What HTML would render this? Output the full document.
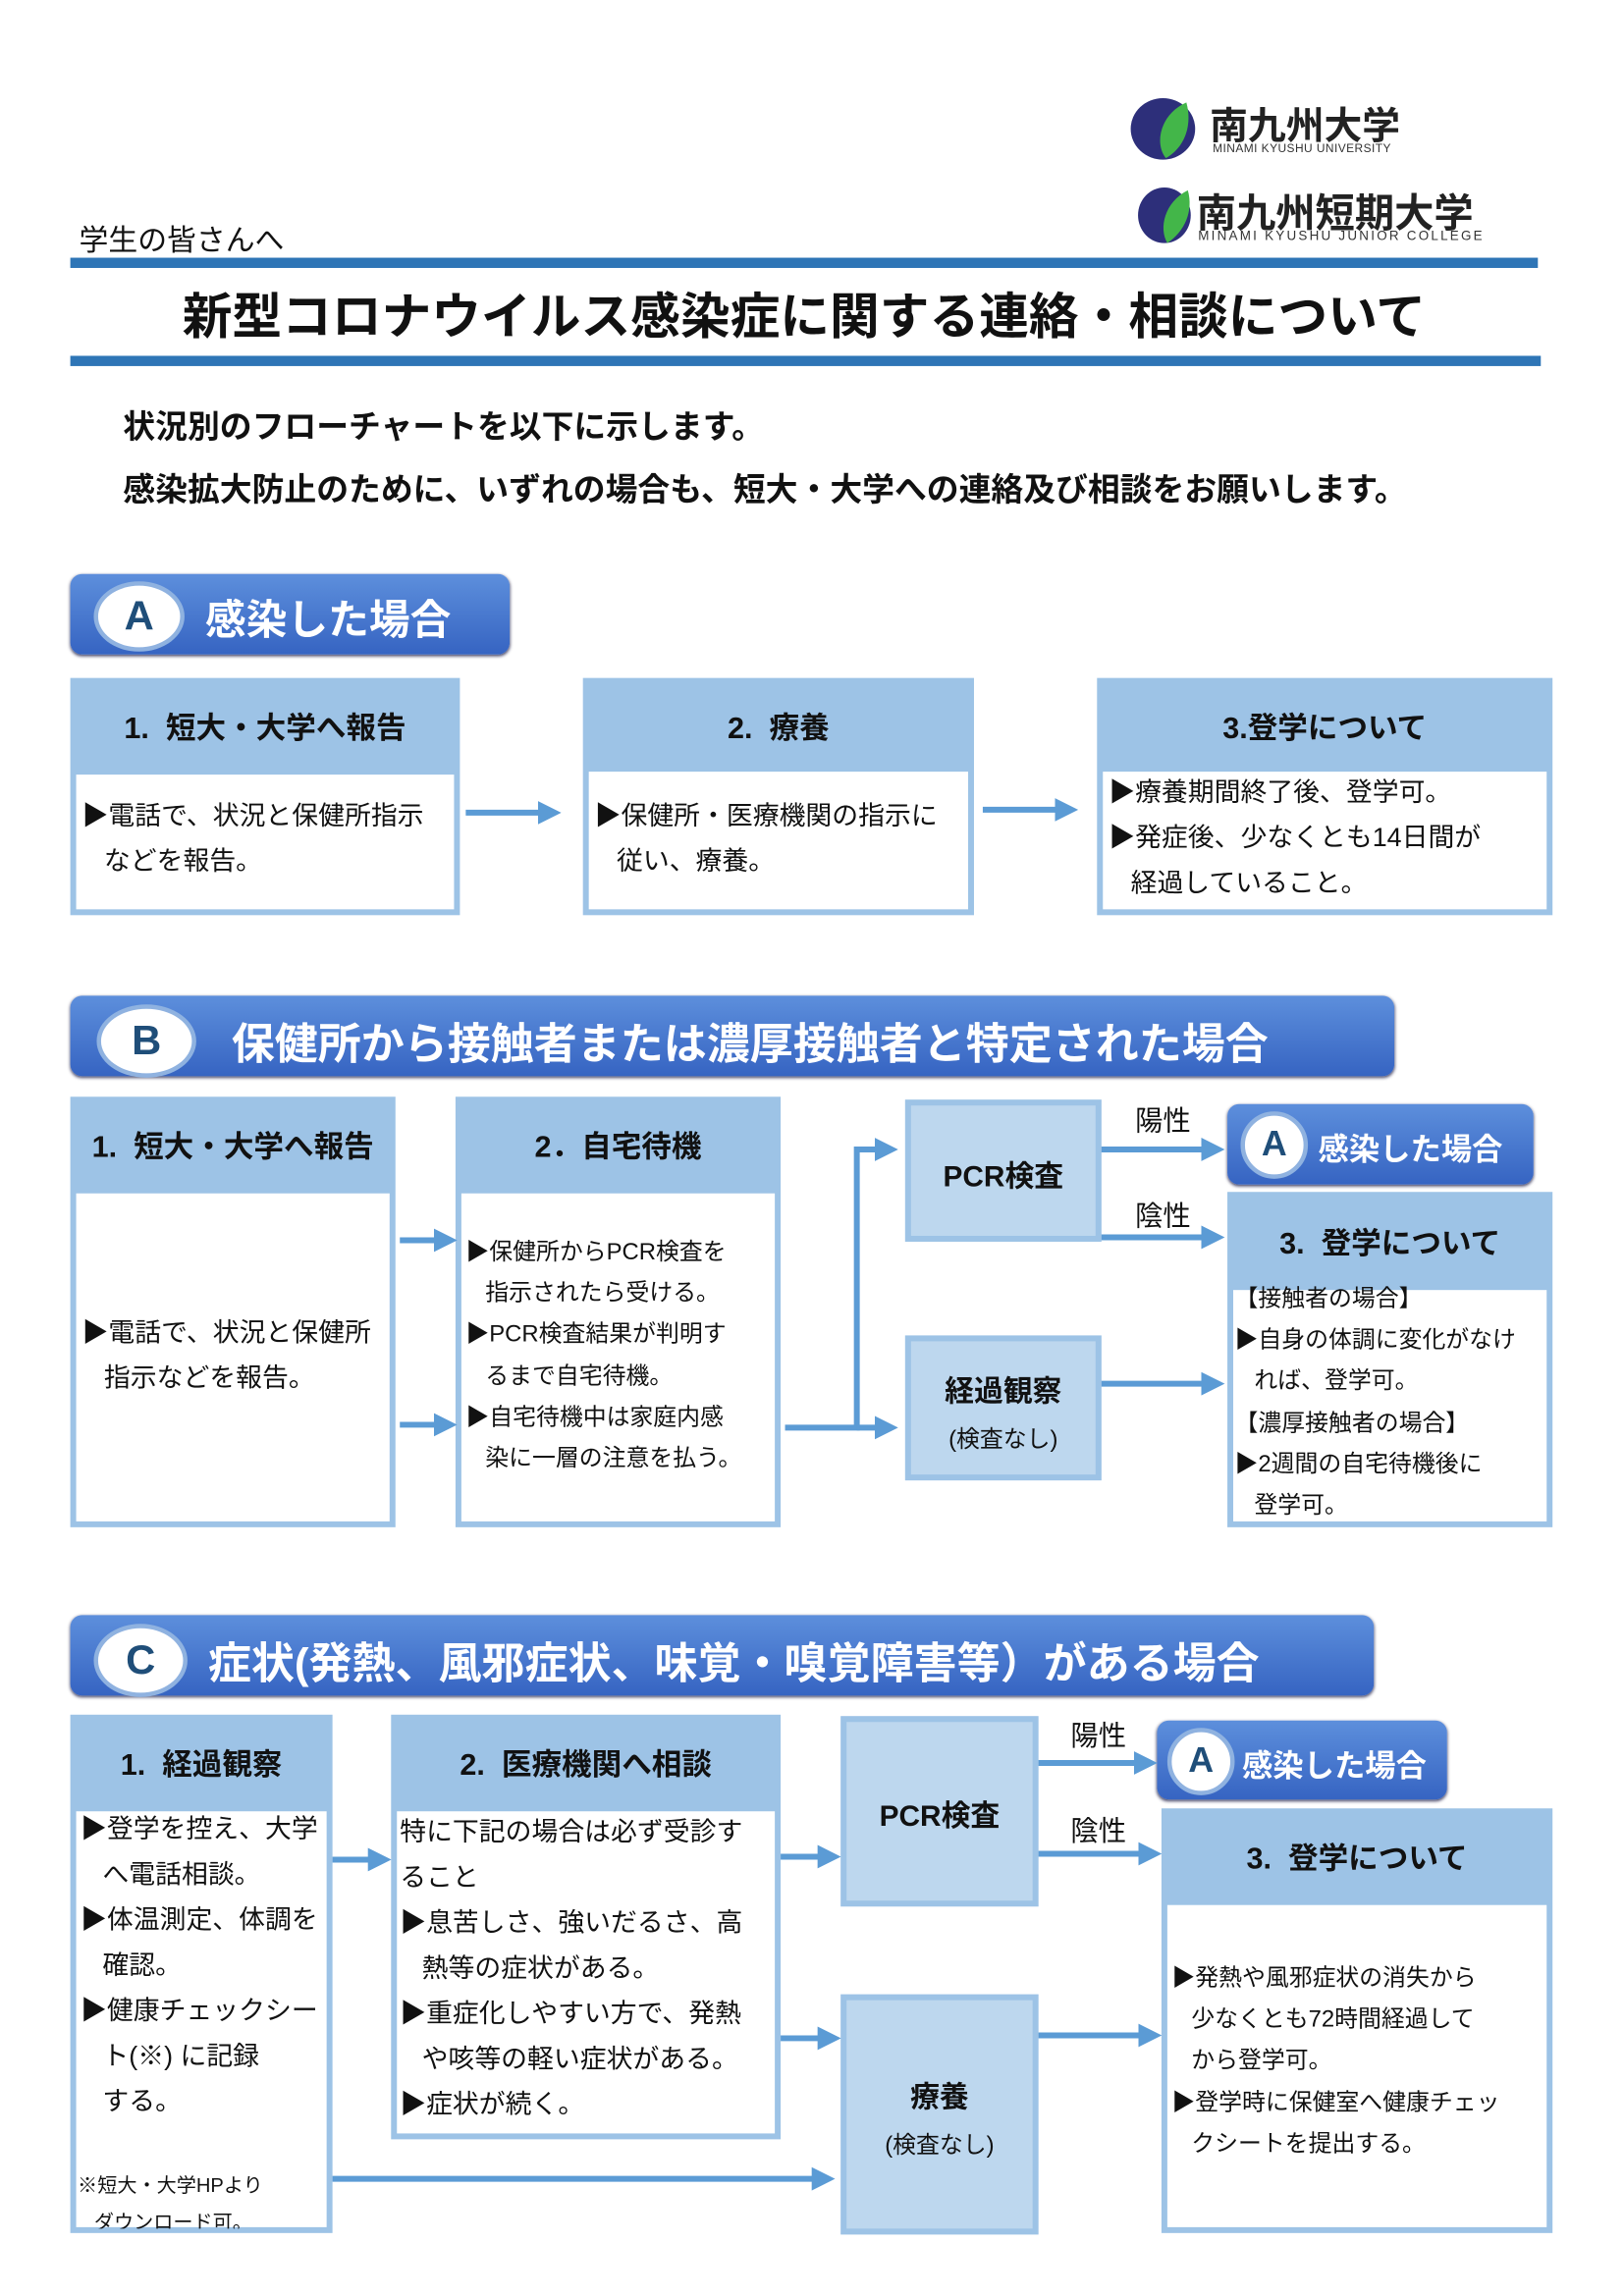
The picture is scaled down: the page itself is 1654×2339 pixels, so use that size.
<!DOCTYPE html>
<html><head><meta charset="utf-8"><style>
html,body{margin:0;padding:0;background:#fff;}
body{width:1654px;height:2338px;overflow:hidden;position:relative;}
#p{position:absolute;left:0;top:0;width:1110px;height:1568px;transform:scale(1.4917);transform-origin:0 0;font-family:"Liberation Sans","Noto Sans CJK JP",sans-serif;color:#111;}
.a{position:absolute;}
.bar{position:absolute;background:#2e75b6;}
.box{position:absolute;background:#9dc3e6;}
.box .h{position:absolute;left:0;right:0;top:0;display:flex;align-items:center;justify-content:center;font-weight:700;font-size:20.5px;}
.box .w{position:absolute;left:4px;right:4px;bottom:4px;background:#fff;}
.t{position:absolute;font-size:18px;line-height:31px;white-space:nowrap;}
.sec{position:absolute;border-radius:8px;background:linear-gradient(#5d8fdc,#3664c2);color:#fff;font-weight:700;box-shadow:0 1px 2px #446;}
.circ{position:absolute;background:#fff;border:3px solid #8fb2e0;border-radius:50%;color:#1f4e79;font-weight:700;display:flex;align-items:center;justify-content:center;}
.lt{position:absolute;background:#bdd7ee;border:4px solid #9dc3e6;box-sizing:border-box;text-align:center;}
.lbl{position:absolute;font-size:19px;}
</style></head><body><div id="p">

<svg class="a" style="left:770px;top:64px" width="60" height="48"><ellipse cx="24" cy="24" rx="22" ry="21" fill="#2d2f7a"/><path d="M40 6 C22 14 18 34 26 44 C40 36 44 20 40 6Z" fill="#43b649"/></svg>
<div class="a" style="left:826px;top:66px;font-size:26px;font-weight:700;color:#222;">南九州大学</div>
<div class="a" style="left:828px;top:97px;font-size:8px;color:#333;letter-spacing:0.3px;">MINAMI KYUSHU UNIVERSITY</div>
<svg class="a" style="left:775px;top:126px" width="50" height="42"><ellipse cx="20" cy="21" rx="18" ry="19" fill="#2d2f7a"/><path d="M36 4 C20 12 16 30 22 40 C34 32 40 18 36 4Z" fill="#43b649"/></svg>
<div class="a" style="left:817px;top:124px;font-size:27px;font-weight:700;color:#222;">南九州短期大学</div>
<div class="a" style="left:818px;top:156px;font-size:9px;color:#333;letter-spacing:1.5px;">MINAMI KYUSHU JUNIOR COLLEGE</div>

<div class="a" style="left:54px;top:148px;font-size:20px;">学生の皆さんへ</div>
<div class="bar" style="left:48px;top:176px;width:1002px;height:7px;"></div>
<div class="a" style="left:48px;top:189px;width:1002px;text-align:center;font-size:34px;font-weight:700;">新型コロナウイルス感染症に関する連絡・相談について</div>
<div class="bar" style="left:48px;top:243px;width:1004px;height:7px;"></div>
<div class="a" style="left:84px;top:274px;font-size:22px;font-weight:700;">状況別のフローチャートを以下に示します。</div>
<div class="a" style="left:84px;top:317px;font-size:22px;font-weight:700;">感染拡大防止のために、いずれの場合も、短大・大学への連絡及び相談をお願いします。</div>

<div class="sec" style="left:48px;top:392px;width:300px;height:55px;"></div>
<div class="circ" style="left:64px;top:397px;width:56px;height:42px;font-size:28px;">A</div>
<div class="a" style="left:140px;top:402px;font-size:28px;font-weight:700;color:#fff;">感染した場合</div>

<div class="box" style="left:48px;top:463px;width:266px;height:162px;"><div class="h" style="height:64px;">1.&nbsp;&nbsp;短大・大学へ報告</div><div class="w" style="top:66px;"></div></div>
<div class="t" style="left:56px;top:542px;">▶電話で、状況と保健所指示<br>&nbsp;&nbsp;&nbsp;などを報告。</div>
<div class="box" style="left:398px;top:463px;width:267px;height:162px;"><div class="h" style="height:64px;">2.&nbsp;&nbsp;療養</div><div class="w" style="top:64px;"></div></div>
<div class="t" style="left:406px;top:542px;">▶保健所・医療機関の指示に<br>&nbsp;&nbsp;&nbsp;従い、療養。</div>
<div class="box" style="left:749px;top:463px;width:311px;height:162px;"><div class="h" style="height:64px;">3.登学について</div><div class="w" style="top:64px;"></div></div>
<div class="t" style="left:757px;top:526px;">▶療養期間終了後、登学可。<br>▶発症後、少なくとも14日間が<br>&nbsp;&nbsp;&nbsp;経過していること。</div>

<div class="sec" style="left:48px;top:680px;width:904px;height:55px;"></div>
<div class="circ" style="left:66px;top:686px;width:62px;height:44px;font-size:28px;">B</div>
<div class="a" style="left:158px;top:690px;font-size:29.5px;font-weight:700;color:#fff;">保健所から接触者または濃厚接触者と特定された場合</div>

<div class="box" style="left:48px;top:749px;width:222px;height:294px;"><div class="h" style="height:64px;">1.&nbsp;&nbsp;短大・大学へ報告</div><div class="w" style="top:66px;"></div></div>
<div class="t" style="left:56px;top:895px;">▶電話で、状況と保健所<br>&nbsp;&nbsp;&nbsp;指示などを報告。</div>
<div class="box" style="left:311px;top:749px;width:222px;height:294px;"><div class="h" style="height:64px;">2．自宅待機</div><div class="w" style="top:66px;"></div></div>
<div class="t" style="left:318px;top:842px;font-size:16px;line-height:28.2px;">▶保健所からPCR検査を<br>&nbsp;&nbsp;&nbsp;指示されたら受ける。<br>▶PCR検査結果が判明す<br>&nbsp;&nbsp;&nbsp;るまで自宅待機。<br>▶自宅待機中は家庭内感<br>&nbsp;&nbsp;&nbsp;染に一層の注意を払う。</div>

<div class="lt" style="left:618px;top:751px;width:134px;height:97px;padding-top:32px;font-weight:700;font-size:20px;">PCR検査</div>
<div class="lt" style="left:618px;top:912px;width:134px;height:99px;padding-top:18px;"><div style="font-weight:700;font-size:20px;">経過観察</div><div style="font-size:16px;margin-top:6px;">(検査なし)</div></div>
<div class="lbl" style="left:775px;top:751px;">陽性</div>
<div class="lbl" style="left:775px;top:816px;">陰性</div>
<div class="sec" style="left:838px;top:754px;width:209px;height:55px;"></div>
<div class="circ" style="left:847px;top:759px;width:40px;height:40px;font-size:24px;">A</div>
<div class="a" style="left:900px;top:769px;font-size:21px;font-weight:700;color:#fff;">感染した場合</div>
<div class="box" style="left:838px;top:814px;width:222px;height:229px;"><div class="h" style="height:65px;">3.&nbsp;&nbsp;登学について</div><div class="w" style="top:67px;"></div></div>
<div class="t" style="left:843px;top:874px;font-size:16px;line-height:28.2px;">【接触者の場合】<br>▶自身の体調に変化がなけ<br>&nbsp;&nbsp;&nbsp;れば、登学可。<br>【濃厚接触者の場合】<br>▶2週間の自宅待機後に<br>&nbsp;&nbsp;&nbsp;登学可。</div>

<div class="sec" style="left:48px;top:1103px;width:890px;height:55px;"></div>
<div class="circ" style="left:64px;top:1109px;width:58px;height:44px;font-size:28px;">C</div>
<div class="a" style="left:142px;top:1113px;font-size:29.5px;font-weight:700;color:#fff;">症状(発熱、風邪症状、味覚・嗅覚障害等）がある場合</div>

<div class="box" style="left:48px;top:1171px;width:179px;height:354px;"><div class="h" style="height:64px;">1.&nbsp;&nbsp;経過観察</div><div class="w" style="top:66px;"></div></div>
<div class="t" style="left:55px;top:1234px;">▶登学を控え、大学<br>&nbsp;&nbsp;&nbsp;へ電話相談。<br>▶体温測定、体調を<br>&nbsp;&nbsp;&nbsp;確認。<br>▶健康チェックシー<br>&nbsp;&nbsp;&nbsp;ト(※) に記録<br>&nbsp;&nbsp;&nbsp;する。</div>
<div class="t" style="left:53px;top:1480px;font-size:13.5px;line-height:25px;height:42px;overflow:hidden;">※短大・大学HPより<br>&nbsp;&nbsp;&nbsp;ダウンロード可。</div>
<div class="box" style="left:267px;top:1171px;width:266px;height:290px;"><div class="h" style="height:64px;">2.&nbsp;&nbsp;医療機関へ相談</div><div class="w" style="top:66px;"></div></div>
<div class="t" style="left:273px;top:1236px;">特に下記の場合は必ず受診す<br>ること<br>▶息苦しさ、強いだるさ、高<br>&nbsp;&nbsp;&nbsp;熱等の症状がある。<br>▶重症化しやすい方で、発熱<br>&nbsp;&nbsp;&nbsp;や咳等の軽い症状がある。<br>▶症状が続く。</div>

<div class="lt" style="left:574px;top:1172px;width:135px;height:130px;padding-top:48px;font-weight:700;font-size:20px;">PCR検査</div>
<div class="lt" style="left:574px;top:1362px;width:135px;height:164px;padding-top:50px;"><div style="font-weight:700;font-size:20px;">療養</div><div style="font-size:16px;margin-top:6px;">(検査なし)</div></div>
<div class="lbl" style="left:731px;top:1171px;">陽性</div>
<div class="lbl" style="left:731px;top:1236px;">陰性</div>
<div class="sec" style="left:790px;top:1175px;width:198px;height:54px;"></div>
<div class="circ" style="left:797px;top:1180px;width:40px;height:40px;font-size:24px;">A</div>
<div class="a" style="left:848px;top:1190px;font-size:21px;font-weight:700;color:#fff;">感染した場合</div>
<div class="box" style="left:793px;top:1235px;width:267px;height:290px;"><div class="h" style="height:64px;">3.&nbsp;&nbsp;登学について</div><div class="w" style="top:66px;"></div></div>
<div class="t" style="left:800px;top:1338px;font-size:16px;line-height:28.2px;">▶発熱や風邪症状の消失から<br>&nbsp;&nbsp;&nbsp;少なくとも72時間経過して<br>&nbsp;&nbsp;&nbsp;から登学可。<br>▶登学時に保健室へ健康チェッ<br>&nbsp;&nbsp;&nbsp;クシートを提出する。</div>

<svg class="a" style="left:0;top:0" width="1110" height="1568">
<defs><marker id="m" markerWidth="4" markerHeight="4" refX="2.2" refY="2" orient="auto" markerUnits="strokeWidth"><path d="M0,0 L4,2 L0,4Z" fill="#5b9bd5"/></marker></defs>
<g stroke="#5b9bd5" stroke-width="4" fill="none" marker-end="url(#m)">
<line x1="318" y1="555" x2="376" y2="555"/>
<line x1="671" y1="553" x2="729" y2="553"/>
<line x1="273" y1="847" x2="305" y2="847"/>
<line x1="273" y1="973" x2="305" y2="973"/>
<polyline points="536,975 585,975 585,785 606,785"/>
<line x1="585" y1="975" x2="606" y2="975"/>
<line x1="752" y1="785" x2="829" y2="785"/>
<line x1="752" y1="845" x2="829" y2="845"/>
<line x1="752" y1="945" x2="829" y2="945"/>
<line x1="227" y1="1270" x2="260" y2="1270"/>
<line x1="533" y1="1268" x2="567" y2="1268"/>
<line x1="533" y1="1392" x2="567" y2="1392"/>
<line x1="709" y1="1204" x2="783" y2="1204"/>
<line x1="709" y1="1266" x2="786" y2="1266"/>
<line x1="709" y1="1390" x2="786" y2="1390"/>
<line x1="227" y1="1488" x2="563" y2="1488"/>
</g></svg>
</div></body></html>
